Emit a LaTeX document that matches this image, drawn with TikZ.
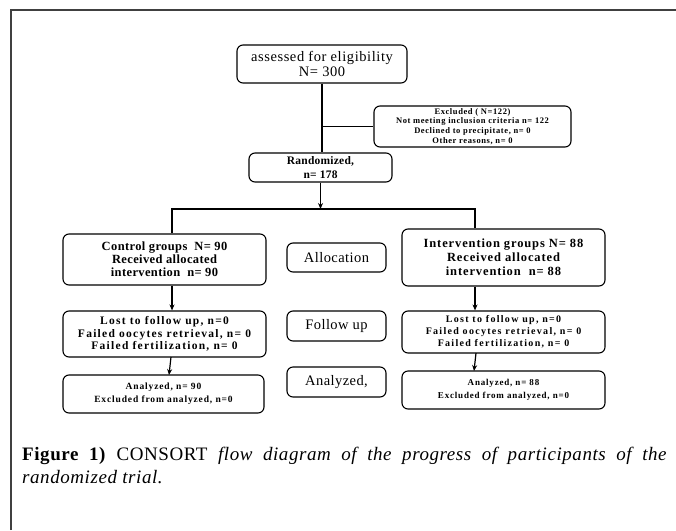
\documentclass[tikz,border=0pt]{standalone}
\usepackage{fontspec}
\setmainfont{Liberation Serif}
\usetikzlibrary{arrows.meta}
\newcommand\letsp[1]{\addfontfeature{LetterSpace=#1}}

\begin{document}
\begin{tikzpicture}[x=1pt,y=-1pt,
  box/.style={draw, line width=1.1pt, rounded corners=6pt, align=center, inner sep=0pt},
  link/.style={line width=1.2pt},
  arr/.style={line width=1.2pt, -{Stealth[length=6pt,width=5pt]}}]
\useasboundingbox (0,0) rectangle (676,530);

\draw [line width=1.6pt, black!75] (11,530)--(11,10)--(676,10);

\node [box, minimum width=170pt, minimum height=38pt, font=\fontsize{14.5}{15}\selectfont\letsp{4}] (assess) at (322,64) {assessed for eligibility\\N= 300};

\node [box, minimum width=197pt, minimum height=41pt, font=\fontsize{8.5}{9.8}\selectfont\bfseries\letsp{7}] (excl) at (472.5,126.5) {Excluded ( N=122)\\Not meeting inclusion criteria n= 122\\Declined to precipitate, n= 0\\Other reasons, n= 0};

\node [box, minimum width=143pt, minimum height=29pt, font=\fontsize{11.5}{14}\selectfont\bfseries\letsp{2}] (rand) at (320.5,167.5) {Randomized,\\n= 178};


% the control arm

\node [box, minimum width=203pt, minimum height=51pt, font=\fontsize{12.5}{13}\selectfont\bfseries\letsp{3}] (ctrl) at (164.5,259.5) {Control groups~~N= 90\\Received allocated\\intervention~~n= 90};

\node [box, minimum width=203pt, minimum height=46pt, font=\fontsize{11.5}{12.5}\selectfont\bfseries\letsp{11}] (ctrlfu) at (164.5,334) {Lost to follow up, n=0\\Failed oocytes retrieval, n= 0\\Failed fertilization, n= 0};

\node [box, minimum width=201pt, minimum height=38pt, font=\fontsize{9.5}{13}\selectfont\bfseries\letsp{9}] (ctrlan) at (163.5,394) {Analyzed, n= 90\\Excluded from analyzed, n=0};


% the middle labels

\node [box, minimum width=99pt, minimum height=29pt, font=\fontsize{14.5}{16}\selectfont\letsp{3}] (alloc) at (336.5,257.5) {Allocation};
\node [box, minimum width=99pt, minimum height=30pt, font=\fontsize{14.5}{16}\selectfont\letsp{3}] (follow) at (336.5,326) {Follow up};
\node [box, minimum width=99pt, minimum height=30pt, font=\fontsize{14.5}{16}\selectfont\letsp{3}] (analy) at (336.5,382) {Analyzed,};


% the intervention arm

\node [box, minimum width=203pt, minimum height=57pt, font=\fontsize{12.5}{14}\selectfont\bfseries\letsp{7}] (inter) at (503.5,257.5) {Intervention groups N= 88\\Received allocated\\intervention~~n= 88};

\node [box, minimum width=203pt, minimum height=42pt, font=\fontsize{10}{12}\selectfont\bfseries\letsp{13}] (interfu) at (503.5,332) {Lost to follow up, n=0\\Failed oocytes retrieval, n= 0\\Failed fertilization, n= 0};

\node [box, minimum width=203pt, minimum height=38pt, font=\fontsize{9}{13}\selectfont\bfseries\letsp{9}] (interan) at (503.5,390) {Analyzed, n= 88\\Excluded from analyzed, n=0};


\coordinate (split) at (320.5,209);
\coordinate (lbr) at (172,209);
\coordinate (rbr) at (475,209);

\draw [link] (assess.south)--(assess.south |- rand.north);
\draw [link] (assess.south |- excl.west)--(excl.west);
\draw [arr] (rand.south)--(split);
\draw [link] (lbr |- ctrl.north)--(lbr)--(rbr)--(rbr |- inter.north);

\draw [arr] (lbr |- ctrl.south)--(lbr |- ctrlfu.north);
\draw [arr] (171,357)--(169,375);
\draw [arr] (rbr |- inter.south)--(rbr |- interfu.north);
\draw [arr] (476,353)--(474,371);


\node [anchor=base west, inner sep=0pt, font=\fontsize{19}{22}\selectfont\letsp{3}] (cap1) at (22,460) {\makebox[645pt][s]{\textbf{Figure 1)} CONSORT \textit{flow diagram of the progress of participants of the}}};
\node [anchor=base west, inner sep=0pt, font=\fontsize{19}{22}\selectfont\letsp{3}] (cap2) at (22,483) {\textit{randomized trial.}};

\end{tikzpicture}
\end{document}
